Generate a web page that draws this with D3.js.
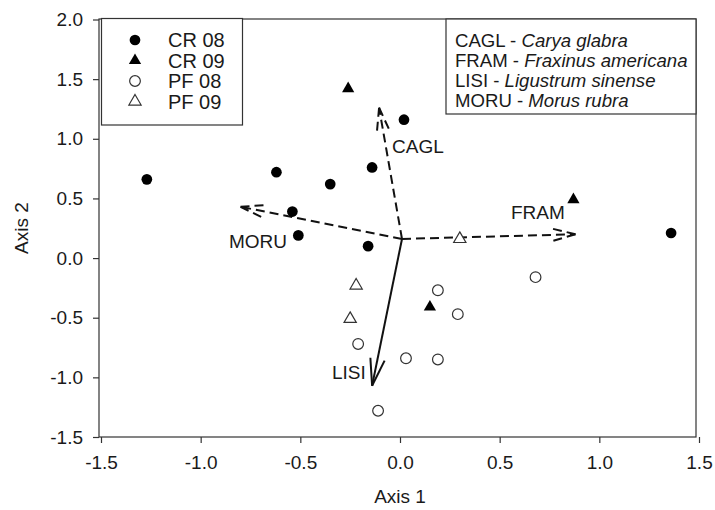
<!DOCTYPE html>
<html>
<head>
<meta charset="utf-8">
<script src="https://cdn.jsdelivr.net/npm/d3@7"></script>
<style>
  body { margin: 0; background: #fff; }
  svg text { font-family: Arial, "Liberation Sans", sans-serif; fill: #1a1a1a; }
</style>
</head>
<body>
<div class="container"></div>
<script>
// site scores by group
const cr08X = [-1.27, -0.62, -0.35, -0.14, 0.02, -0.54, -0.51, -0.16, 1.36];
const cr08Y = [0.66, 0.72, 0.62, 0.76, 1.16, 0.39, 0.19, 0.10, 0.21];
const cr09X = [-0.26, 0.87, 0.15];
const cr09Y = [1.42, 0.49, -0.41];
const pf08X = [0.19, 0.29, -0.21, 0.03, 0.19, -0.11, 0.68];
const pf08Y = [-0.27, -0.47, -0.72, -0.84, -0.85, -1.28, -0.16];
const pf09X = [-0.22, -0.25, 0.30];
const pf09Y = [-0.23, -0.51, 0.16];

// species vectors
const vecOrigin = [0.01, 0.16];
const vecNames = ["CAGL", "FRAM", "LISI", "MORU"];
const vecX = [-0.105, 0.88, -0.14, -0.80];
const vecY = [1.26, 0.20, -1.07, 0.43];
const vecDashed = [true, true, false, true];

const legendLabels = ["CR 08", "CR 09", "PF 08", "PF 09"];
const speciesCodes = ["CAGL", "FRAM", "LISI", "MORU"];
const speciesNames = ["Carya glabra", "Fraxinus americana", "Ligustrum sinense", "Morus rubra"];

const xTicks = [-1.5, -1.0, -0.5, 0.0, 0.5, 1.0, 1.5];
const yTicks = [-1.5, -1.0, -0.5, 0.0, 0.5, 1.0, 1.5, 2.0];

const width = 715, height = 510;
const svg = d3.select(".container")
              .append("svg")
              .attr("width", width)
              .attr("height", height);

const x = d3.scaleLinear().domain([-1.5, 1.5]).range([101, 699]);
const y = d3.scaleLinear().domain([-1.5, 2.0]).range([437, 19.5]);
const fmt = d => d.toFixed(1);

// frame
svg.append("rect")
   .attr("x", 99).attr("y", 19)
   .attr("width", 597).attr("height", 418)
   .attr("fill", "none")
   .attr("stroke", "#333")
   .attr("stroke-width", 1.2);

const xAxis = svg.append("g")
                 .attr("transform", "translate(0,437)")
                 .call(d3.axisBottom(x).tickValues(xTicks).tickFormat(fmt).tickSize(6).tickPadding(13));
const yAxis = svg.append("g")
                 .attr("transform", "translate(99,0)")
                 .call(d3.axisLeft(y).tickValues(yTicks).tickFormat(fmt).tickSize(6).tickPadding(10));
[xAxis, yAxis].forEach(g => {
    g.select(".domain").remove();
    g.selectAll("line").attr("stroke", "#333").attr("stroke-width", 1.2);
    g.selectAll("text").attr("font-size", 19).attr("fill", "#1a1a1a");
});

svg.append("text")
   .attr("x", 400).attr("y", 503)
   .attr("text-anchor", "middle")
   .attr("font-size", 19)
   .text("Axis 1");
svg.append("text")
   .attr("transform", "translate(28,228) rotate(-90)")
   .attr("text-anchor", "middle")
   .attr("font-size", 19)
   .text("Axis 2");

// vectors
const headLen = 28, headAng = 15 * Math.PI / 180;
const vec = svg.append("g").attr("fill", "none").attr("stroke", "#111").attr("stroke-width", 2);
vecNames.forEach((n, i) => {
    const x0 = x(vecOrigin[0]), y0 = y(vecOrigin[1]);
    const x1 = x(vecX[i]), y1 = y(vecY[i]);
    const dash = vecDashed[i] ? "9,5" : null;
    vec.append("line")
       .attr("x1", x0).attr("y1", y0).attr("x2", x1).attr("y2", y1)
       .attr("stroke-dasharray", dash);
    const back = Math.atan2(y0 - y1, x0 - x1);
    [-headAng, headAng].forEach(a => {
        vec.append("line")
           .attr("x1", x1).attr("y1", y1)
           .attr("x2", x1 + headLen * Math.cos(back + a))
           .attr("y2", y1 + headLen * Math.sin(back + a))
           .attr("stroke-dasharray", dash);
    });
});
const vecLabelPos = {CAGL: [392, 153], FRAM: [511, 219], LISI: [332, 379], MORU: [229, 248]};
vecNames.forEach(n => {
    svg.append("text")
       .attr("x", vecLabelPos[n][0]).attr("y", vecLabelPos[n][1])
       .attr("font-size", 19)
       .text(n);
});

// points
const circ = d3.symbol().type(d3.symbolCircle).size(90);
const tri = d3.symbol().type(d3.symbolTriangle).size(65);
function drawSeries(xs, ys, sym, filled) {
    svg.append("g").selectAll("path")
       .data(d3.zip(xs, ys))
       .join("path")
       .attr("transform", d => `translate(${x(d[0])},${y(d[1])})`)
       .attr("d", sym)
       .attr("fill", filled ? "#000" : "#fff")
       .attr("stroke", filled ? "none" : "#333")
       .attr("stroke-width", 1.2);
}
drawSeries(pf08X, pf08Y, circ, false);
drawSeries(pf09X, pf09Y, tri, false);
drawSeries(cr08X, cr08Y, circ, true);
drawSeries(cr09X, cr09Y, tri, true);

// group legend
const leg = svg.append("g");
leg.append("rect")
   .attr("x", 101.5).attr("y", 18.5).attr("width", 141).attr("height", 106.5)
   .attr("fill", "#fff").attr("stroke", "#333").attr("stroke-width", 1.2);
const legSyms = [[circ, true], [tri, true], [circ, false], [tri, false]];
legendLabels.forEach((l, i) => {
    const cy = 40 + i * 20.5;
    leg.append("path")
       .attr("transform", `translate(135,${cy})`)
       .attr("d", legSyms[i][0])
       .attr("fill", legSyms[i][1] ? "#000" : "#fff")
       .attr("stroke", legSyms[i][1] ? "none" : "#333")
       .attr("stroke-width", 1.2);
    leg.append("text")
       .attr("x", 168).attr("y", cy + 7)
       .attr("font-size", 20)
       .text(l);
});

// species key
const key = svg.append("g");
key.append("rect")
   .attr("x", 446).attr("y", 19).attr("width", 250).attr("height", 95)
   .attr("fill", "#fff").attr("stroke", "#333").attr("stroke-width", 1.2);
speciesCodes.forEach((c, i) => {
    const t = key.append("text")
                 .attr("x", 455).attr("y", 46.5 + i * 20)
                 .attr("font-size", 18.6);
    t.append("tspan").text(c + " - ");
    t.append("tspan").attr("font-style", "italic").text(speciesNames[i]);
});
</script>
</body>
</html>
